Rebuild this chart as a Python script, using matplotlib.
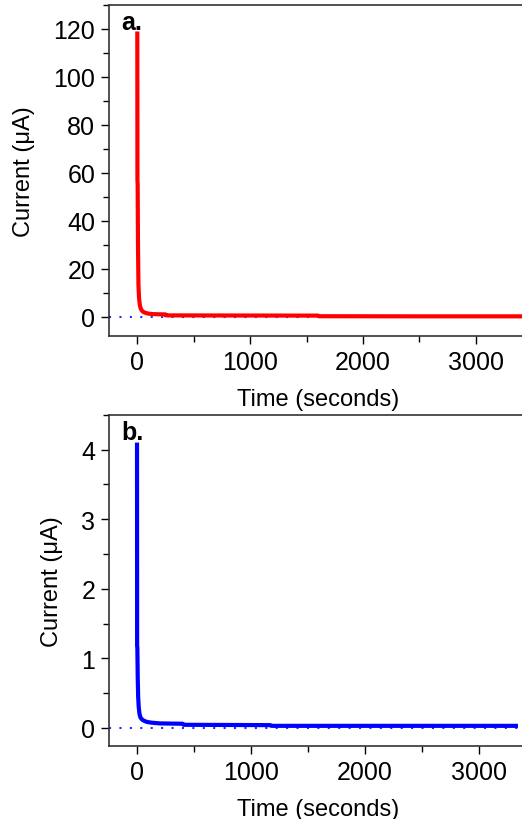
import matplotlib.pyplot as plt
from matplotlib.ticker import MultipleLocator

plt.rcParams['font.family'] = ['Liberation Sans', 'DejaVu Sans']

# panel a: current decay (uA) vs time (s)
tempo_a = [0, 1, 3, 6, 10, 15, 22, 30, 40, 55, 75, 100, 150, 250, 255, 800, 1600, 1610, 2500, 3450]
corrente_a = [118, 57, 55, 30, 13.5, 8, 5, 3.5, 2.6, 2.0, 1.6, 1.3, 1.1, 1.0, 0.6, 0.55, 0.5, 0.25, 0.2, 0.2]

# panel b
tempo_b = [0, 1, 3, 6, 10, 15, 22, 30, 45, 65, 90, 130, 200, 400, 410, 1170, 1180, 2500, 3325]
corrente_b = [4.07, 1.18, 1.15, 0.75, 0.45, 0.3, 0.2, 0.15, 0.12, 0.1, 0.085, 0.075, 0.065, 0.06, 0.045, 0.04, 0.03, 0.03, 0.03]

fig = plt.figure(figsize=(5.22, 8.2), dpi=100)
ax_a = fig.add_axes([0.209, 0.589, 0.80, 0.404])
ax_b = fig.add_axes([0.209, 0.089, 0.80, 0.404])


def formatar(ax, xlim, ylim, y_maior, y_menor, letra):
    ax.set_xlim(*xlim)
    ax.set_ylim(*ylim)
    ax.axhline(0, color='#2a2aff', linestyle=(0, (1, 4)), linewidth=1.5, zorder=1)
    ax.xaxis.set_major_locator(MultipleLocator(1000))
    ax.xaxis.set_minor_locator(MultipleLocator(500))
    ax.yaxis.set_major_locator(MultipleLocator(y_maior))
    ax.yaxis.set_minor_locator(MultipleLocator(y_menor))
    ax.tick_params(which='major', direction='out', length=6, width=1, labelsize=18, pad=4)
    ax.tick_params(which='minor', direction='out', length=4, width=1)
    ax.spines['right'].set_visible(False)
    for s in ['left', 'bottom', 'top']:
        ax.spines[s].set_linewidth(1.2)
        ax.spines[s].set_color('#333333')
    ax.set_xlabel('Time (seconds)', fontsize=17, labelpad=10)
    ax.set_ylabel('Current (\u03bcA)', fontsize=17, labelpad=13)
    ax.text(0.03, 0.985, letra, transform=ax.transAxes, fontsize=18, fontweight='bold',
            va='top', ha='left')


ax_a.plot(tempo_a, corrente_a, color='#ff0000', linewidth=3, zorder=2)
formatar(ax_a, (-250, 3450), (-8, 130), 20, 10, 'a.')

ax_b.plot(tempo_b, corrente_b, color='#0000ff', linewidth=3, zorder=2)
formatar(ax_b, (-245, 3420), (-0.26, 4.5), 1, 0.5, 'b.')

fig.savefig('out.png', dpi=100)
